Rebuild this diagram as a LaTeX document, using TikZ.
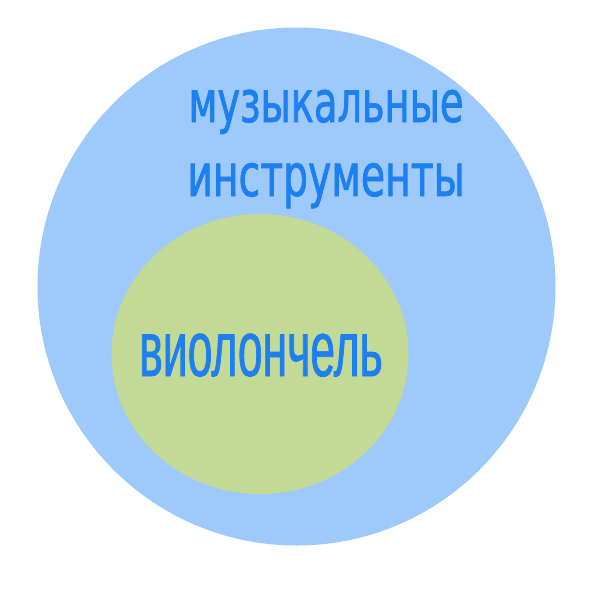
\documentclass[tikz,border=0pt]{standalone}
\usepackage{fontspec}
\newfontfamily\topfont[FakeStretch=0.665,FakeBold=1.2]{DejaVu Sans}
\newfontfamily\celfont[FakeStretch=0.565,FakeBold=0.9]{Liberation Sans}
\definecolor{setblue}{HTML}{9DCAFA}
\definecolor{setgreen}{HTML}{C3D996}
\definecolor{inkblue}{HTML}{1E80F0}
\tikzset{
    setlabel/.style={inkblue, inner sep=0pt, anchor=base},
}

\begin{document}
\begin{tikzpicture}[x=0.025cm,y=-0.025cm]

\useasboundingbox (0,0) rectangle (600,600);

	%%% sets
    \coordinate (O) at (296.5,286.5);
    \coordinate (V) at (260,354);

    \fill[setblue] (O) circle (259);
    \fill[setgreen] (V) ellipse (148.5 and 140);

	%%% labels
    \node[setlabel] (mus1) at (326,122) {\fontsize{41}{50}\topfont музыкальные};
    \node[setlabel] (mus2) at (326,196) {\fontsize{42}{50}\topfont инструменты};
    \node[setlabel] (cel) at (261,376) {\fontsize{56}{60}\celfont виолончель};

\end{tikzpicture}
\end{document}
